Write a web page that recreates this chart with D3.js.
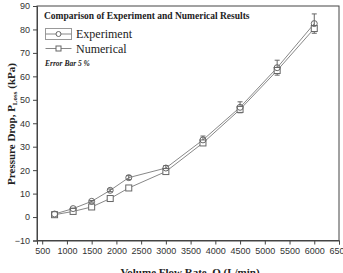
<!DOCTYPE html>
<html>
<head>
<meta charset="utf-8">
<script src="https://cdn.jsdelivr.net/npm/d3@7"></script>
<style>
  body { margin: 0; background: #fff; }
  svg { display: block; }
  .tick text { font-family: "Liberation Sans", Arial, sans-serif; font-size: 9px; fill: #333; }
  .serif { font-family: "Liberation Serif", "Times New Roman", serif; fill: #222; }
</style>
</head>
<body>
<div id="chart"></div>
<script>
// data
var flowRates = [750, 1125, 1500, 1875, 2250, 3000, 3750, 4500, 5250, 6000];
var experiment = [1.3, 3.6, 6.7, 11.4, 16.8, 20.9, 32.9, 46.8, 63.7, 82.5];
var numerical = [1.0, 2.4, 4.3, 7.9, 12.4, 19.4, 31.6, 45.9, 62.5, 80.4];
var xTicks = [500, 1000, 1500, 2000, 2500, 3000, 3500, 4000, 4500, 5000, 5500, 6000, 6500];
var yTicks = [-10, 0, 10, 20, 30, 40, 50, 60, 70, 80, 90];
var errPct = 0.05;

var width = 343, height = 273;
var margin = {top: 6, right: 4, bottom: 32, left: 37};

var svg = d3.select("#chart").append("svg")
    .attr("width", width)
    .attr("height", height);

var x = d3.scaleLinear()
    .domain([395, 6500])
    .range([margin.left, width - margin.right]);

var y = d3.scaleLinear()
    .domain([-10, 90])
    .range([height - margin.bottom - 0.5, margin.top]);

// frame
svg.append("rect")
    .attr("x", x(395))
    .attr("y", y(90))
    .attr("width", x(6500) - x(395))
    .attr("height", y(-10) - y(90))
    .attr("fill", "none")
    .attr("stroke", "#444")
    .attr("stroke-width", 1);

var xAxis = svg.append("g")
    .attr("transform", "translate(0," + y(-10) + ")")
    .call(d3.axisBottom(x).tickValues(xTicks).tickSize(4).tickPadding(3).tickFormat(d3.format("d")));
xAxis.select(".domain").attr("stroke", "#444");
xAxis.selectAll(".tick line").attr("stroke", "#444");

var yAxis = svg.append("g")
    .attr("transform", "translate(" + x(395) + ",0)")
    .call(d3.axisLeft(y).tickValues(yTicks).tickSize(4).tickPadding(3));
yAxis.select(".domain").attr("stroke", "#444");
yAxis.selectAll(".tick line").attr("stroke", "#444");

// axis titles
svg.append("text")
    .attr("class", "serif")
    .attr("x", 190)
    .attr("y", 276)
    .attr("text-anchor", "middle")
    .attr("font-weight", "bold")
    .attr("font-size", "11px")
    .text("Volume Flow Rate, Q (L/min)");

var yl = svg.append("text")
    .attr("class", "serif")
    .attr("transform", "translate(15,124) rotate(-90)")
    .attr("text-anchor", "middle")
    .attr("font-weight", "bold")
    .attr("font-size", "11px");
yl.append("tspan").text("Pressure Drop, P");
yl.append("tspan").attr("font-size", "7px").attr("dy", 2).text("Loss");
yl.append("tspan").attr("dy", -2).text(" (kPa)");

var line = d3.line()
    .x(function(d, i) { return x(flowRates[i]); })
    .y(function(d) { return y(d); });

// lines
svg.append("path")
    .datum(numerical)
    .attr("d", line)
    .attr("fill", "none")
    .attr("stroke", "#888")
    .attr("stroke-width", 1);

svg.append("path")
    .datum(experiment)
    .attr("d", line)
    .attr("fill", "none")
    .attr("stroke", "#888")
    .attr("stroke-width", 1);

// error bars on experiment
var eb = svg.append("g").selectAll("g")
    .data(experiment)
    .enter().append("g");
eb.append("line")
    .attr("x1", function(d, i) { return x(flowRates[i]); })
    .attr("x2", function(d, i) { return x(flowRates[i]); })
    .attr("y1", function(d) { return y(d * (1 + errPct)); })
    .attr("y2", function(d) { return y(d * (1 - errPct)); })
    .attr("stroke", "#666");
eb.append("line")
    .attr("x1", function(d, i) { return x(flowRates[i]) - 2.5; })
    .attr("x2", function(d, i) { return x(flowRates[i]) + 2.5; })
    .attr("y1", function(d) { return y(d * (1 + errPct)); })
    .attr("y2", function(d) { return y(d * (1 + errPct)); })
    .attr("stroke", "#666");
eb.append("line")
    .attr("x1", function(d, i) { return x(flowRates[i]) - 2.5; })
    .attr("x2", function(d, i) { return x(flowRates[i]) + 2.5; })
    .attr("y1", function(d) { return y(d * (1 - errPct)); })
    .attr("y2", function(d) { return y(d * (1 - errPct)); })
    .attr("stroke", "#666");

// markers
svg.append("g").selectAll("rect")
    .data(numerical)
    .enter().append("rect")
    .attr("x", function(d, i) { return x(flowRates[i]) - 3; })
    .attr("y", function(d) { return y(d) - 3; })
    .attr("width", 6)
    .attr("height", 6)
    .attr("fill", "#fff")
    .attr("stroke", "#666");

svg.append("g").selectAll("circle")
    .data(experiment)
    .enter().append("circle")
    .attr("cx", function(d, i) { return x(flowRates[i]); })
    .attr("cy", function(d) { return y(d); })
    .attr("r", 3)
    .attr("fill", "none")
    .attr("stroke", "#666");

// legend
var lg = svg.append("g");
lg.append("text")
    .attr("class", "serif")
    .attr("x", 44)
    .attr("y", 19)
    .attr("font-weight", "bold")
    .attr("font-size", "9.5px")
    .text("Comparison of Experiment and Numerical Results");

lg.append("rect")
    .attr("x", 45.5).attr("y", 28.5)
    .attr("width", 26).attr("height", 11)
    .attr("fill", "none").attr("stroke", "#999");
lg.append("line")
    .attr("x1", 45.5).attr("x2", 71.5).attr("y1", 34).attr("y2", 34)
    .attr("stroke", "#888");
lg.append("circle")
    .attr("cx", 58.5).attr("cy", 34).attr("r", 2.5)
    .attr("fill", "#fff").attr("stroke", "#666");
lg.append("text")
    .attr("class", "serif")
    .attr("x", 76).attr("y", 38)
    .attr("font-size", "12px")
    .text("Experiment");

lg.append("line")
    .attr("x1", 45.5).attr("x2", 71.5).attr("y1", 48.5).attr("y2", 48.5)
    .attr("stroke", "#888");
lg.append("rect")
    .attr("x", 56).attr("y", 46).attr("width", 5).attr("height", 5)
    .attr("fill", "#fff").attr("stroke", "#666");
lg.append("text")
    .attr("class", "serif")
    .attr("x", 76).attr("y", 52.5)
    .attr("font-size", "12px")
    .text("Numerical");

lg.append("text")
    .attr("class", "serif")
    .attr("x", 45).attr("y", 66)
    .attr("font-weight", "bold")
    .attr("font-style", "italic")
    .attr("font-size", "7.5px")
    .text("Error Bar 5 %");
</script>
</body>
</html>
